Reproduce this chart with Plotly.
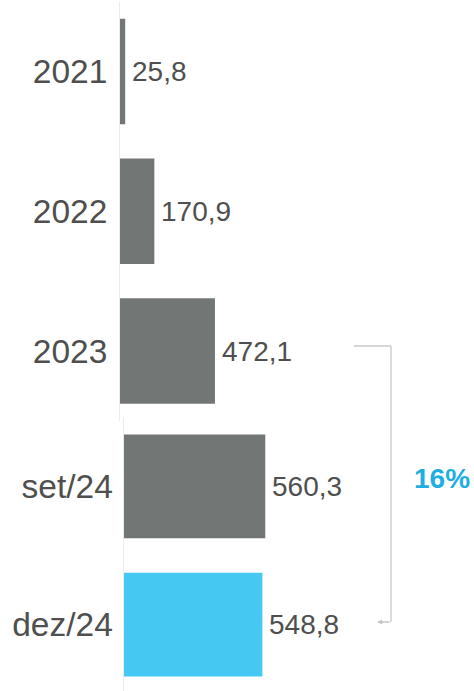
import plotly.graph_objects as go

# ---- data ----
categories_top = ["2021", "2022", "2023"]
values_top = [25.8, 170.9, 472.1]
categories_bottom = ["set/24", "dez/24"]
values_bottom = [560.3, 548.8]
labels_top = ["25,8", "170,9", "472,1"]
labels_bottom = ["560,3", "548,8"]
growth_label = "16%"

W, H = 474, 691
GRAY = "#727775"
BLUE = "#45c8f2"
TXT = "#4f4f4f"
FONT = "Liberation Sans, Arial, sans-serif"

def py(pix):
    return 1 - pix / H

def px(pix):
    return pix / W

fig = go.Figure()
fig.add_trace(go.Bar(
    y=categories_top, x=values_top, orientation="h",
    marker=dict(color=GRAY, line=dict(width=0)), width=0.755,
    xaxis="x", yaxis="y", hoverinfo="skip"))
fig.add_trace(go.Bar(
    y=categories_bottom, x=values_bottom, orientation="h",
    marker=dict(color=[GRAY, BLUE], line=dict(width=0)), width=0.75,
    xaxis="x2", yaxis="y2", hoverinfo="skip"))

annotations = []
for i, (v, t) in enumerate(zip(values_top, labels_top)):
    annotations.append(dict(x=v, y=i, xref="x", yref="y", text=t, showarrow=False,
                            xanchor="left", xshift=5,
                            font=dict(family=FONT, size=28, color=TXT)))
for i, (v, t) in enumerate(zip(values_bottom, labels_bottom)):
    annotations.append(dict(x=v, y=i, xref="x2", yref="y2", text=t, showarrow=False,
                            xanchor="left", xshift=5,
                            font=dict(family=FONT, size=28, color=TXT)))

# growth label
annotations.append(dict(x=px(442), y=py(478), xref="paper", yref="paper",
                        xanchor="center", yanchor="middle",
                        text="<b>" + growth_label + "</b>", showarrow=False,
                        font=dict(family=FONT, size=28, color="#1eaee3")))
# arrow at bottom of bracket
annotations.append(dict(x=px(377), y=py(622), xref="paper", yref="paper",
                        text="", showarrow=True, ax=14, ay=0,
                        arrowhead=2, arrowsize=0.8, arrowwidth=1.3,
                        arrowcolor="#c4c4c4"))

BR = "#c8c8c8"
shapes = [
    dict(type="line", xref="paper", yref="paper", x0=px(354), x1=px(391),
         y0=py(346), y1=py(346), line=dict(color=BR, width=1.3)),
    dict(type="line", xref="paper", yref="paper", x0=px(391), x1=px(391),
         y0=py(346), y1=py(622), line=dict(color=BR, width=1.3)),
]

fig.update_layout(
    width=W, height=H, margin=dict(l=0, r=0, t=0, b=0),
    paper_bgcolor="white", plot_bgcolor="white", showlegend=False,
    font=dict(family=FONT, color=TXT),
    xaxis=dict(domain=[px(120), 1], range=[0, 1760], visible=False, fixedrange=True),
    xaxis2=dict(domain=[px(123.5), 1], range=[0, 1385], visible=False, fixedrange=True,
                anchor="y2"),
    yaxis=dict(domain=[py(421), py(1.6)], type="category",
               categoryorder="array", categoryarray=categories_top,
               range=[2.5, -0.5], anchor="x",
               showline=True, linecolor="#ececec", linewidth=1,
               showgrid=False, zeroline=False, ticks="", ticklabelstandoff=5,
               tickfont=dict(family=FONT, size=33.5, color=TXT)),
    yaxis2=dict(domain=[0, py(417.1)], type="category",
                categoryorder="array", categoryarray=categories_bottom,
                range=[(H - 417.1) / 138.4 - 0.5, -0.5], anchor="x2",
                showline=True, linecolor="#ececec", linewidth=1,
                showgrid=False, zeroline=False, ticks="", ticklabelstandoff=3,
                tickfont=dict(family=FONT, size=33.5, color=TXT)),
    annotations=annotations, shapes=shapes,
)

fig.write_html("out.html", config={"displayModeBar": False},
               post_script="document.body.style.margin='0';"
                           "document.documentElement.style.overflow='hidden';")
